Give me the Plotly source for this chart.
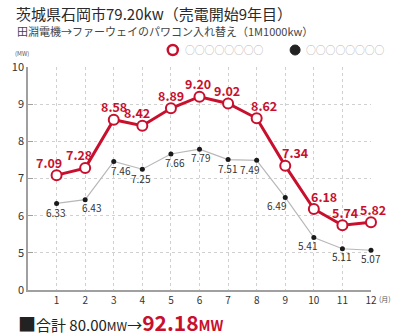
import plotly.graph_objects as go

months = list(range(1, 13))
after_mw = [7.09, 7.28, 8.58, 8.42, 8.89, 9.20, 9.02, 8.62, 7.34, 6.18, 5.74, 5.82]
before_mw = [6.33, 6.43, 7.46, 7.25, 7.66, 7.79, 7.51, 7.49, 6.49, 5.41, 5.11, 5.07]
y_tick_vals = [4, 5, 6, 7, 8, 9, 10]
y_tick_text = ["0", "5", "6", "7", "8", "9", "10"]

# per-point label nudges in pixels (dx right, dy up)
after_dx = [-8, -6, 0, -5, 0, -2, -1, 7, 10, 10, 3, 2]
after_dy = [13, 14, 13, 13, 13, 13, 13, 13, 13, 12, 13, 13]
before_dx = [-1, 6, 7, -1, 4, 1, -1, -7, -9, -6, -1, 0]
before_dy = [-9, -8, -9, -9, -9, -8, -9, -9, -8, -8, -8, -8]

RED = "#c8102e"
FONT = "Noto Sans CJK JP"

fig = go.Figure()
fig.add_trace(go.Scatter(
    x=months, y=before_mw, mode="lines+markers",
    line=dict(color="#b8b8b8", width=1.2),
    marker=dict(color="#1a1a1a", size=5),
    cliponaxis=False, showlegend=False,
))
fig.add_trace(go.Scatter(
    x=months, y=after_mw, mode="lines+markers",
    line=dict(color=RED, width=3),
    marker=dict(color="white", size=10, line=dict(color=RED, width=2)),
    cliponaxis=False, showlegend=False,
))

fig.update_xaxes(
    range=[0, 12], tickvals=months, ticktext=[str(m) for m in months],
    showgrid=True, gridcolor="#d0d0d0", griddash="dot", gridwidth=1,
    showline=True, linecolor="#a0a0a0", linewidth=1.5, zeroline=False,
    tickfont=dict(family=FONT, size=10, color="#333333"), ticks="",
)
fig.update_yaxes(
    range=[4, 10], tickvals=y_tick_vals, ticktext=y_tick_text,
    showgrid=True, gridcolor="#d0d0d0", griddash="dot", gridwidth=1,
    showline=True, linecolor="#a0a0a0", linewidth=1.5, zeroline=False,
    tickfont=dict(family=FONT, size=11, color="#333333"),
    ticks="inside", ticklen=5, tickcolor="#a0a0a0",
)

annotations = []
# value labels attached to the data points
for m, v, dx, dy in zip(months, after_mw, after_dx, after_dy):
    annotations.append(dict(
        x=m, y=v, xref="x", yref="y", text=f"<b>{v:.2f}</b>", showarrow=False,
        xanchor="center", yanchor="middle", xshift=dx, yshift=dy,
        font=dict(family=FONT, size=12.5, color=RED),
    ))
for m, v, dx, dy in zip(months, before_mw, before_dx, before_dy):
    annotations.append(dict(
        x=m, y=v, xref="x", yref="y", text=f"{v:.2f}", showarrow=False,
        xanchor="center", yanchor="middle", xshift=dx, yshift=dy,
        font=dict(family=FONT, size=10, color="#333333"),
    ))


def px(x):
    return (x - 27.5) / (371 - 27.5)


def py(y):
    return (290 - y) / (290 - 67)


page_texts = [
    dict(text="茨城県石岡市79.20kw（売電開始9年目）", x=13, y=14, font=dict(size=15, color="#2a2a2a")),
    dict(text="田淵電機→ファーウェイのパワコン入れ替え（1M1000kw）", x=14, y=31, font=dict(size=11, color="#444444")),
    dict(text="(MW)", x=12, y=53, font=dict(size=6, color="#555555")),
    dict(text="(月)", x=377, y=299, font=dict(size=7, color="#555555")),
    dict(text="○○○○○○○○", x=183, y=50, font=dict(size=9.8, color="#b0b0b0")),
    dict(text="○○○○○○○○", x=304, y=50, font=dict(size=9.8, color="#b0b0b0")),
    dict(text="<span style='font-size:18px'>■</span>合計 80.00<span style='font-size:12px'>MW</span>→"
              "<span style='color:%s;font-size:21px'><b>92.18</b></span>"
              "<span style='color:%s;font-size:14px'><b>MW</b></span>" % (RED, RED),
         x=15, y=322, font=dict(size=15, color="#222222")),
]
for a in page_texts:
    a.update(xref="paper", yref="paper", showarrow=False, xanchor="left", yanchor="middle")
    a["font"]["family"] = FONT
    a["x"] = px(a["x"])
    a["y"] = py(a["y"])
    annotations.append(a)
fig.update_layout(annotations=annotations)

# legend swatches
fig.add_shape(type="circle", xref="paper", yref="paper",
              x0=px(167.5), x1=px(177.5), y0=py(55), y1=py(45),
              line=dict(color=RED, width=2.5), fillcolor="white")
fig.add_shape(type="circle", xref="paper", yref="paper",
              x0=px(290), x1=px(300), y0=py(55), y1=py(45),
              line=dict(color="#222222", width=1), fillcolor="#222222")

fig.update_layout(
    width=399, height=336,
    margin=dict(l=27.5, r=28, t=67, b=46),
    paper_bgcolor="white", plot_bgcolor="white",
    font=dict(family=FONT),
)

fig.write_html("out.html")
